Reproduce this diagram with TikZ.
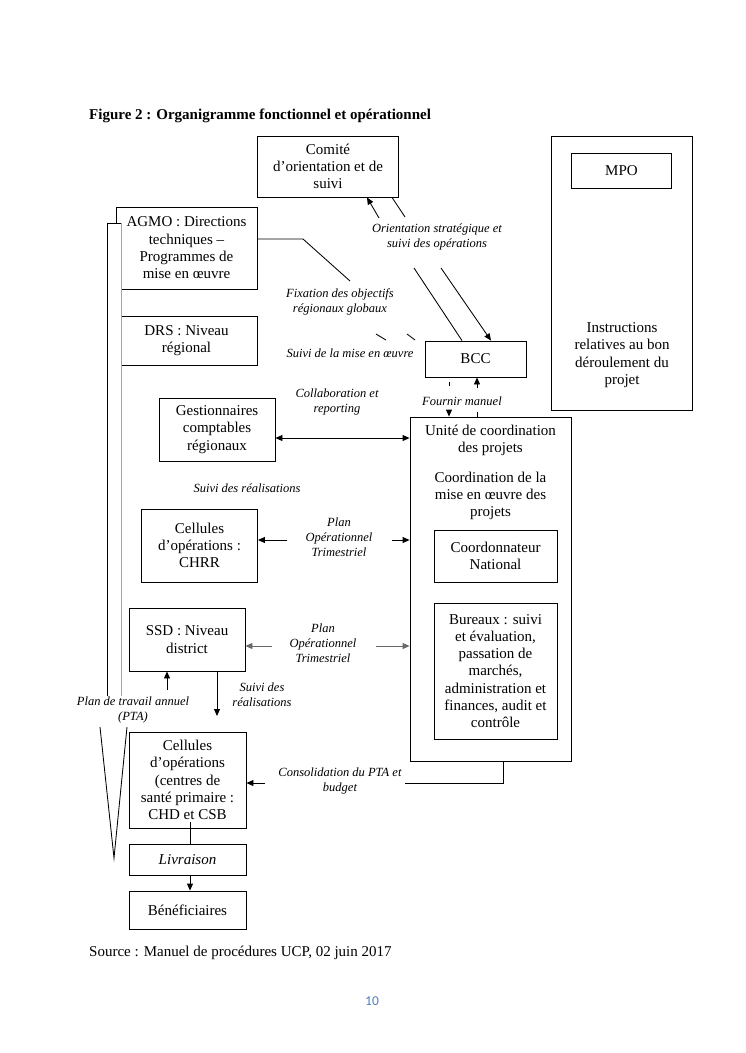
\documentclass[tikz,border=0pt]{standalone}
\usepackage{fontspec}
\setmainfont{Liberation Serif}
\newfontfamily\calib{Carlito}
\usetikzlibrary{arrows.meta,calc}
\definecolor{pgnum}{RGB}{79,129,189}
\definecolor{midgray}{RGB}{105,105,105}
\definecolor{bargray}{RGB}{165,165,165}
\begin{document}
\begin{tikzpicture}[x=1pt,y=-1pt,
  box/.style={draw, line width=0.85pt, inner sep=0pt, align=center, font=\fontsize{15}{17.3}\selectfont},
  txt/.style={inner sep=0pt, align=center, font=\fontsize{15}{17.3}\selectfont},
  lab/.style={inner sep=1pt, fill=white, align=center, font=\fontsize{12.5}{15}\selectfont\itshape},
  con/.style={line width=0.85pt},
  tip/.style={-{Triangle[length=7pt,width=6pt]}},
  tips/.style={{Triangle[length=7pt,width=6pt]}-{Triangle[length=7pt,width=6pt]}}]
\fill[white] (0,0) rectangle (745,1053);
\useasboundingbox (0,0) rectangle (745,1053);

% title and source
\node[anchor=base west, inner sep=0pt, font=\fontsize{15}{18}\selectfont\bfseries] (title) at (89,119) {Figure 2 : Organigramme fonctionnel et opérationnel};
\node[anchor=base west, inner sep=0pt, font=\fontsize{15}{18}\selectfont] (src) at (89,956) {Source : Manuel de procédures UCP, 02 juin 2017};
\node[inner sep=0pt, font=\calib\fontsize{13.5}{16}\selectfont, text=pgnum] (pnum) at (372,1001) {10};

% boxes
\node[box, minimum width=141pt, minimum height=61pt] (comite) at (328,166.5) {Comité\\d’orientation et de\\suivi};
\node[box, minimum width=141pt, minimum height=274pt] (mpoout) at (622,273) {};
\node[box, minimum width=100pt, minimum height=35pt] (mpo) at (621.5,170.5) {MPO};
\node[txt] (instr) at (622,355) {Instructions\\relatives au bon\\déroulement du\\projet};

\node[box, minimum width=141pt, minimum height=82pt] (agmo) at (186.5,248) {AGMO : Directions\\techniques –\\Programmes de\\mise en œuvre};
\node[box, minimum width=141pt, minimum height=49pt] (drs) at (186.5,340.5) {DRS : Niveau\\régional};
\node[box, minimum width=101pt, minimum height=36pt] (bcc) at (475.5,359) {BCC};
\node[box, minimum width=116pt, minimum height=63pt] (gest) at (217,429.5) {Gestionnaires\\comptables\\régionaux};

\node[box, minimum width=161pt, minimum height=344pt] (unite) at (490.5,589) {};
\node[txt] (unitetxt) at (490.5,440.5) {Unité de coordination\\des projets};
\node[txt] (coordtxt) at (490.5,496) {Coordination de la\\mise en œuvre des\\projets};
\node[box, minimum width=123pt, minimum height=52pt] (coord) at (495.5,556) {Coordonnateur\\National};
\node[box, minimum width=123pt, minimum height=136pt] (bureaux) at (495.5,671) {Bureaux : suivi\\et évaluation,\\passation de\\marchés,\\administration et\\finances, audit et\\contrôle};

\node[box, minimum width=116pt, minimum height=73pt] (chrr) at (199.5,545.5) {Cellules\\d’opérations :\\CHRR};
\node[box, minimum width=116pt, minimum height=63pt] (ssd) at (187,639.5) {SSD : Niveau\\district};
\node[box, minimum width=117pt, minimum height=96pt] (cell) at (187.5,780) {Cellules\\d’opérations\\(centres de\\santé primaire :\\CHD et CSB};
\node[box, minimum width=117pt, minimum height=31pt, font=\fontsize{15}{17.3}\selectfont\itshape] (livr) at (187.5,859.5) {Livraison};
\node[box, minimum width=117pt, minimum height=38pt] (benef) at (187.5,910) {Bénéficiaires};

% left bar over AGMO / DRS
\fill[white] (107,223) rectangle (121,700);
\coordinate (barTL) at (107,223);
\coordinate (barTR) at (121,223);
\coordinate (barBL) at (107,700);
\coordinate (barBR) at (121,700);
\draw[con, draw=bargray] (barTR) -- (barBR);
\draw[con] (barBL) -- (barTL) -- (barTR);
\coordinate (vL) at (100,727);
\coordinate (vR) at (127,727);
\coordinate (vA) at (114,858);
\draw[con] (vL) -- (vA) -- (vR);

% labels
\node[lab] (lorient) at (437,237) {Orientation stratégique et\\suivi des opérations};
\node[lab] (lfix) at (340,302) {Fixation des objectifs\\régionaux globaux};
\node[lab] (lsuivmo) at (350,353) {Suivi de la mise en œuvre};
\node[lab] (lfourn) at (462,401) {Fournir manuel};
\node[lab] (lcollab) at (337,402) {Collaboration et\\reporting};
\node[lab] (lsuivr) at (247,488) {Suivi des réalisations};
\node[lab] (lpot1) at (339,537) {Plan\\Opérationnel\\Trimestriel};
\node[lab] (lpot2) at (323,643) {Plan\\Opérationnel\\Trimestriel};
\node[lab] (lpta) at (133,710) {Plan de travail annuel\\(PTA)};
\node[lab] (lsuivr2) at (262,695) {Suivi des\\réalisations};
\node[lab] (lconso) at (340,781) {Consolidation du PTA et\\budget};

% Comité <-> BCC
\coordinate (o1a) at (379,218);
\coordinate (o1b) at (414,268);
\coordinate (o2a) at (405,217);
\coordinate (o2b) at (441,268);
\draw[con, tip] (o1a) -- ([xshift=39pt]comite.south);
\draw[con] (o1b) -- ([xshift=-13.5pt]bcc.north);
\draw[con] ([xshift=64pt]comite.south) -- (o2a);
\draw[con, tip] (o2b) -- ([xshift=15.5pt]bcc.north);

% AGMO line
\coordinate (f1) at (303,239);
\coordinate (f2) at (350,281);
\draw[con] ([yshift=9pt]agmo.east) -- (f1) -- (f2);
% fragments behind "Suivi de la mise en oeuvre"
\coordinate (d1a) at (376,334); \coordinate (d1b) at (386,340);
\coordinate (d2a) at (407,334); \coordinate (d2b) at (415,340);
\draw[con] (d1a) -- (d1b);
\draw[con] (d2a) -- (d2b);

% BCC <-> Unité
\coordinate (m1a) at (449,386); \coordinate (m1b) at (449,412);
\coordinate (m2a) at (477,412); \coordinate (m2b) at (477,388);
\draw[con] ([xshift=-26.5pt,yshift=-5pt]bcc.south) -- (m1a);
\draw[con, tip] (m1b) -- ([xshift=-41.5pt]unite.north);
\draw[con] ([xshift=-13.5pt]unite.north) -- (m2a);
\draw[con, tip] (m2b) -- ([xshift=1.5pt]bcc.south);

% Gestionnaires <-> Unité
\draw[con, tips] ([yshift=-8.5pt]gest.east) -- ([yshift=-8.5pt]gest.east -| unite.west);

% CHRR
\coordinate (p1a) at (287,540); \coordinate (p1b) at (392,540);
\draw[con, tip] (p1a) -- (p1a -| chrr.east);
\draw[con, tip] (p1b) -- (p1b -| unite.west);

% SSD (grey)
\coordinate (p2a) at (272,646); \coordinate (p2b) at (376,646);
\draw[con, draw=midgray, tip] (p2a) -- (p2a -| ssd.east);
\draw[con, draw=midgray, tip] (p2b) -- (p2b -| unite.west);

% PTA up arrow and suivi down arrow
\coordinate (pta) at (167,690);
\draw[con, tip] (pta) -- (pta |- ssd.south);
\coordinate (sr) at (217,716);
\draw[con, tip] (sr |- ssd.south) -- (sr);

% Consolidation
\coordinate (c1) at (503,783); \coordinate (c2) at (405,783); \coordinate (c3) at (265,783);
\draw[con] (c1 |- unite.south) -- (c1) -- (c2);
\draw[con, tip] (c3) -- (c3 -| cell.east);

% Cellules -> Livraison -> Beneficiaires
\draw[con] ([xshift=2.5pt,yshift=6pt]cell.south) -- ([xshift=2.5pt]livr.north);
\draw[con, tip] ([xshift=2.5pt]livr.south) -- ([xshift=2.5pt]benef.north);
\end{tikzpicture}
\end{document}
